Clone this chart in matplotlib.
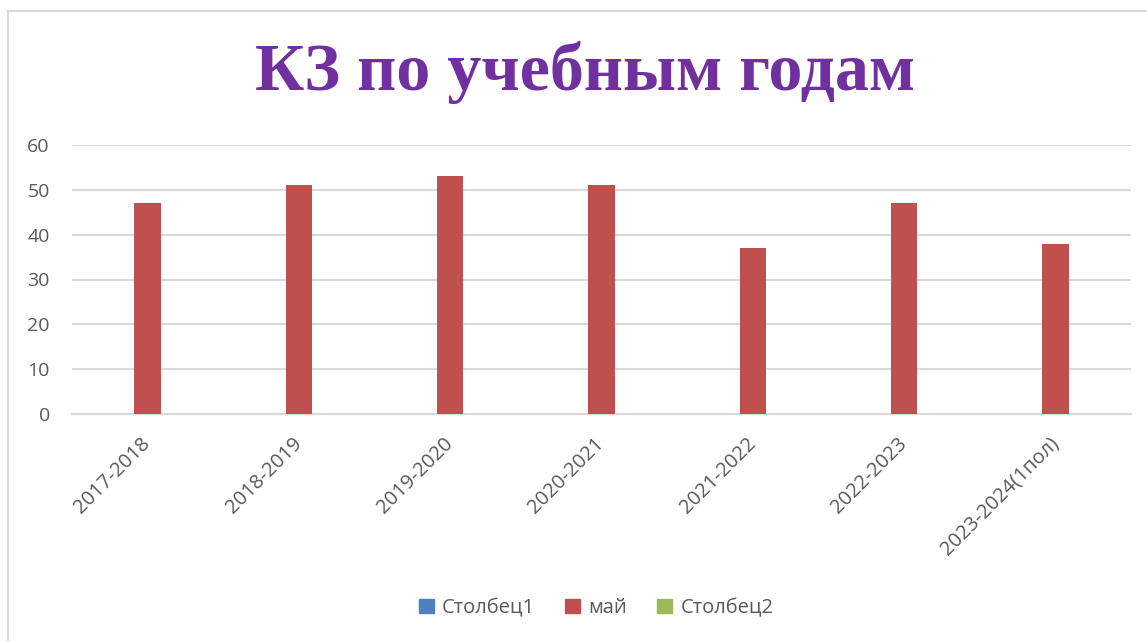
"""
КЗ по учебным годам - bar chart
"""
import matplotlib
matplotlib.use('Agg')
import matplotlib.pyplot as plt
import matplotlib.patches as mpatches
from matplotlib.lines import Line2D
import numpy as np

# Data
years = ['2017-2018', '2018-2019', '2019-2020', '2020-2021',
         '2021-2022', '2022-2023', '2023-2024(1пол)']
may_values = [47, 51, 53, 51, 37, 47, 38]
series_names = ['Столбец1', 'май', 'Столбец2']
series_colors = ['#4F81BD', '#C0504D', '#9BBB59']
y_ticks = [0, 10, 20, 30, 40, 50, 60]

font = ['Open Sans', 'DejaVu Sans']
grid_color = '#D9D9D9'
text_color = '#595959'

fig = plt.figure(figsize=(11.47, 6.41), dpi=100)
ax = fig.add_axes([72 / 1147, 1 - 414 / 641, (1131 - 72) / 1147, (414 - 145) / 641])

x = np.arange(len(years))
ax.bar(x, may_values, width=0.175, color=series_colors[1], zorder=3)

ax.set_xlim(-0.5, len(years) - 0.5)
ax.set_ylim(0, 60)
ax.set_yticks(y_ticks)
ax.set_yticklabels([str(v) for v in y_ticks], family=font, fontsize=14, color=text_color)
ax.set_xticks(x)
ax.set_xticklabels(years, family=font, fontsize=14.5, color=text_color,
                   rotation=45, ha='right', va='center', rotation_mode='anchor')
ax.tick_params(axis='both', length=0)
ax.tick_params(axis='y', pad=16)
ax.tick_params(axis='x', pad=19)
ax.grid(axis='y', color=grid_color, linewidth=1.5, zorder=0)
for side in ['top', 'right', 'left']:
    ax.spines[side].set_visible(False)
ax.spines['bottom'].set_color(grid_color)
ax.spines['bottom'].set_linewidth(1.5)

# Title
fig.text(585 / 1147, 1 - 72 / 641, 'КЗ по учебным годам', ha='center', va='center',
         fontsize=49, fontweight='bold', color='#7030A0', family='Liberation Serif')

# Legend
handles = [mpatches.Patch(color=c, label=n) for c, n in zip(series_colors, series_names)]
fig.legend(handles=handles, loc='center', bbox_to_anchor=(596 / 1147, 1 - 608 / 641),
           ncol=3, frameon=False, prop={'family': font, 'size': 14.5},
           handlelength=0.75, handleheight=0.75, handletextpad=0.4, columnspacing=1.5,
           labelcolor=text_color)

# Chart border (left and top edges visible)
fig.add_artist(Line2D([8 / 1147, 8 / 1147], [0, 1 - 11 / 641], transform=fig.transFigure,
                      color=grid_color, linewidth=1.5))
fig.add_artist(Line2D([8 / 1147, 1], [1 - 11 / 641, 1 - 11 / 641], transform=fig.transFigure,
                      color=grid_color, linewidth=1.5))

plt.savefig('out.png', dpi=100)
